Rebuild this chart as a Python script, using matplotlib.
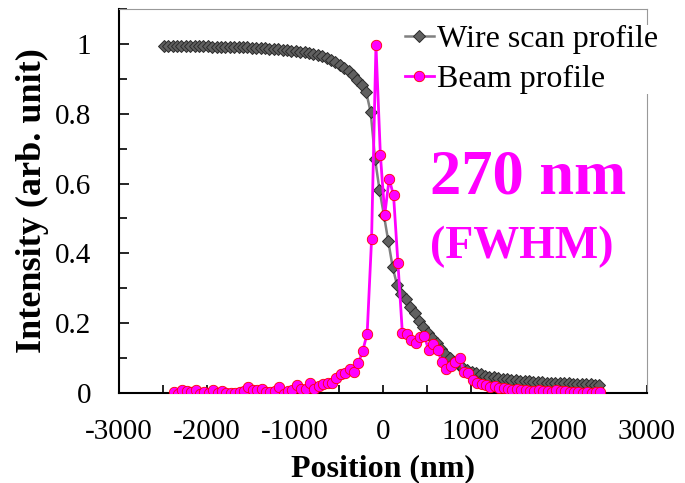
import numpy as np
import matplotlib
matplotlib.use("Agg")
import matplotlib.pyplot as plt
from matplotlib.ticker import MultipleLocator

plt.rcParams['font.family'] = ['Liberation Serif', 'DejaVu Serif']
plt.rcParams['axes.unicode_minus'] = False

# wire scan profile, 50 nm steps
wire_x = np.arange(-2490, 2461, 50)
wire_y = [0.995, 0.995, 0.995, 0.995, 0.994, 0.994, 0.994, 0.994, 0.993, 0.993,
          0.993, 0.992, 0.992, 0.992, 0.991, 0.991, 0.991, 0.990, 0.990, 0.990,
          0.989, 0.988, 0.988, 0.987, 0.986, 0.985, 0.984, 0.983, 0.982, 0.980,
          0.979, 0.978, 0.976, 0.974, 0.971, 0.968, 0.964, 0.959, 0.953, 0.947,
          0.940, 0.932, 0.922, 0.910, 0.897, 0.881,
          0.861, 0.804, 0.670, 0.582, 0.510, 0.435, 0.360, 0.309, 0.285, 0.268,
          0.247, 0.228, 0.206, 0.190, 0.173, 0.158, 0.142, 0.126, 0.112, 0.099,
          0.089, 0.080, 0.072, 0.065, 0.060, 0.056, 0.053, 0.050, 0.047, 0.045,
          0.043, 0.041, 0.039, 0.038, 0.036, 0.035, 0.034, 0.033, 0.032, 0.031,
          0.031, 0.030, 0.030, 0.029, 0.029, 0.028, 0.028, 0.027, 0.026, 0.026,
          0.025, 0.025, 0.024, 0.023]

# beam profile (derivative), 50 nm steps
beam_x = np.arange(-2380, 2471, 50)
beam_y = [0.004, -0.003, 0.010, 0.006, 0.004, 0.009, -0.003, 0.003, 0.001, 0.009,
          0.000, 0.007, 0.001, 0.000, 0.001, 0.004, 0.006, 0.016, 0.008, 0.009,
          0.012, 0.003, 0.004, 0.006, 0.016, -0.003, 0.007, 0.009, 0.022, 0.012,
          0.011, 0.028, 0.012, 0.021, 0.026, 0.028, 0.030, 0.042, 0.054, 0.058,
          0.068, 0.061, 0.085, 0.121, 0.170, 0.440,
          0.997, 0.683, 0.511, 0.613, 0.566, 0.371, 0.172, 0.168, 0.152, 0.142,
          0.160, 0.163, 0.122, 0.140, 0.123, 0.088, 0.070, 0.078, 0.088, 0.099,
          0.061, 0.056, 0.037, 0.030, 0.026, 0.022, 0.018, 0.020, 0.015, 0.014,
          0.012, 0.010, 0.011, 0.008, 0.009, 0.007, 0.006, 0.008, 0.005, 0.006,
          0.004, 0.010, 0.007, 0.005, 0.003, 0.004, 0.002, 0.001, 0.004, 0.001,
          0.003, 0.004]

fig = plt.figure(figsize=(6.85, 4.83), dpi=100)
ax = fig.add_axes([119/685, 1 - 393/483, (647 - 119)/685, (393 - 9)/483])

ax.plot(wire_x, wire_y, color='#808080', lw=1.8, marker='D', ms=6,
        mfc='#606060', mec='#2a2a2a', mew=0.7, label='Wire scan profile', zorder=3)
ax.plot(beam_x, beam_y, color='#ff00ff', lw=2, marker='o', ms=7.5,
        mfc='#ff00ff', mec='#ff0000', mew=0.6, label='Beam profile', zorder=4)

ax.set_xlim(-3000, 3000)
ax.set_ylim(0, 1.1)
ax.xaxis.set_major_locator(MultipleLocator(1000))
ax.xaxis.set_minor_locator(MultipleLocator(500))
ax.yaxis.set_minor_locator(MultipleLocator(0.1))
ax.set_yticks([0, 0.2, 0.4, 0.6, 0.8, 1.0])
ax.set_yticklabels(['0', '0.2', '0.4', '0.6', '0.8', '1'])
ax.tick_params(which='both', direction='in', labelsize=21, width=1.2)
ax.tick_params(axis='x', which='major', length=6, pad=19)
ax.tick_params(axis='x', which='minor', length=6)
ax.tick_params(axis='y', which='major', length=7, pad=20)
ax.tick_params(axis='y', which='minor', length=6)

for s in ['top', 'right']:
    ax.spines[s].set_color('#999999')
for s in ['left', 'bottom']:
    ax.spines[s].set_linewidth(1.5)

ax.set_xlabel('Position (nm)', fontsize=23, fontweight='bold', labelpad=6)
ax.set_ylabel('Intensity (arb. unit)', fontsize=26, fontweight='bold', labelpad=4)

leg = ax.legend(loc='upper left', bbox_to_anchor=(405/685, 1 - 25/483),
                bbox_transform=fig.transFigure, fontsize=23, frameon=True,
                facecolor='white', edgecolor='none', framealpha=1, fancybox=False,
                borderpad=0, borderaxespad=0, handlelength=0.9, handletextpad=0.1,
                labelspacing=0.33, numpoints=1)
leg.set_zorder(5)

fig.text(430/685, 1 - 178/483, '270 nm', color='#ff00ff', fontsize=45,
         fontweight='bold', ha='left', va='center')
fig.text(430/685, 1 - 247/483, '(FWHM)', color='#ff00ff', fontsize=33,
         fontweight='bold', ha='left', va='center')

fig.savefig('out.png', dpi=100)
